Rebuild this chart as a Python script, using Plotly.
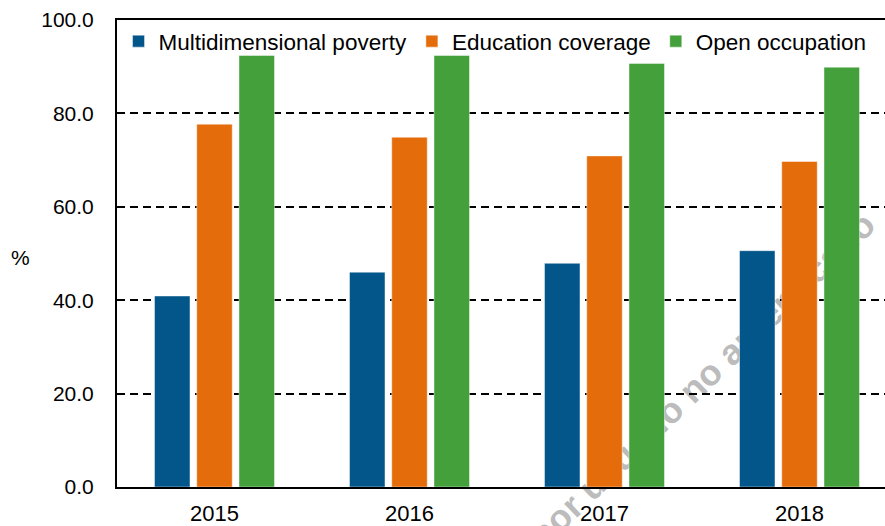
import plotly.graph_objects as go

years = ["2015", "2016", "2017", "2018"]
poverty = [40.9, 46.0, 47.9, 50.6]
education = [77.7, 74.9, 70.9, 69.7]
occupation = [92.4, 92.4, 90.7, 89.9]
series_names = ["Multidimensional poverty", "Education coverage", "Open occupation"]
y_ticks = [0, 20, 40, 60, 80, 100]
y_tick_labels = ["0.0", "20.0", "40.0", "60.0", "80.0", "100.0"]

colors = ["#02568A", "#E46C0A", "#43A03A"]
FONT = "Liberation Sans, Arial, sans-serif"

fig = go.Figure()
for name, vals, col in zip(series_names, [poverty, education, occupation], colors):
    fig.add_trace(go.Bar(
        x=years, y=vals, name=name,
        marker=dict(color=col, line=dict(color="rgba(255,255,255,0.45)", width=1)),
    ))

fig.update_layout(
    width=885, height=526,
    margin=dict(l=117, r=0, t=20, b=37),
    paper_bgcolor="white", plot_bgcolor="rgba(0,0,0,0)",
    barmode="group", bargap=0.35, bargroupgap=0.16,
    font=dict(family=FONT, color="black"),
    showlegend=True,
    legend=dict(orientation="h", x=0.002, y=1.0, xanchor="left", yanchor="top",
                font=dict(size=22.5, family=FONT), bgcolor="rgba(0,0,0,0)",
                itemclick=False, tracegroupgap=0),
    xaxis=dict(range=[-0.5, 3.4385], showline=True, linecolor="black", linewidth=2,
               mirror=True, ticks="", showgrid=False, tickfont=dict(size=22),
               ticklabelstandoff=6),
    yaxis=dict(range=[0, 100], tickvals=y_ticks, ticktext=y_tick_labels,
               showline=True, linecolor="black", linewidth=2, ticks="",
               showgrid=True, gridcolor="black", gridwidth=1.5, griddash="8px,5px",
               tickfont=dict(size=21), ticklabelstandoff=17, zeroline=False),
    annotations=[dict(text="%", x=-0.126, y=0.4925, xref="paper", yref="paper",
                      showarrow=False, font=dict(size=21), xanchor="center", yanchor="middle")],
    shapes=[dict(type="rect", xref="paper", yref="paper", x0=0.749, x1=0.769, y0=0.2245, y1=0.2445,
                 layer="below", line=dict(width=0), fillcolor="rgba(0,0,0,0)",
                 label=dict(text="<b>por usuario no autenticado</b>", textangle=-44,
                            textposition="middle center",
                            font=dict(size=36, family=FONT, color="rgba(130,130,130,0.55)")))],
)

fig.write_html("out.html", config={"displayModeBar": False},
               post_script="document.body.style.margin='0';document.body.style.padding='0';")
